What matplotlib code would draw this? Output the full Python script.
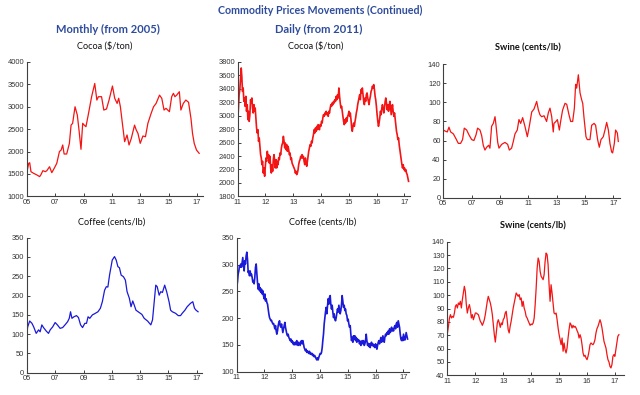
import numpy as np
import pandas as pd
import matplotlib
matplotlib.use('Agg')  # no GUI
import matplotlib.pyplot as plt

# ── Monthly series (from 2005), x in decimal years ──
cocoa_m_t = [2005.00, 2005.12, 2005.19, 2005.28, 2005.47, 2005.70, 2005.89, 2005.98,
             2006.12, 2006.29, 2006.40, 2006.59, 2006.75, 2006.92, 2007.10, 2007.29,
             2007.41, 2007.52, 2007.62, 2007.80, 2007.99, 2008.11, 2008.22, 2008.39,
             2008.55, 2008.67, 2008.81, 2008.93, 2009.04, 2009.16, 2009.32, 2009.56,
             2009.78, 2009.93, 2010.04, 2010.26, 2010.42, 2010.61, 2010.79, 2011.03,
             2011.19, 2011.36, 2011.47, 2011.59, 2011.73, 2011.89, 2012.06, 2012.20,
             2012.36, 2012.59, 2012.71, 2012.83, 2012.99, 2013.18, 2013.36, 2013.53,
             2013.76, 2013.93, 2014.11, 2014.35, 2014.51, 2014.67, 2014.81, 2015.05,
             2015.21, 2015.33, 2015.44, 2015.56, 2015.75, 2015.86, 2016.03, 2016.21,
             2016.40, 2016.57, 2016.68, 2016.80, 2016.96, 2017.15]
cocoa_m = [1550, 1737, 1750, 1550, 1513, 1476, 1440, 1480, 1573, 1550, 1573, 1660,
           1528, 1625, 1736, 2000, 2034, 2146, 1945, 1945, 2180, 2590, 2630, 3000,
           2815, 2480, 2050, 2630, 2590, 2555, 2815, 3225, 3520, 3150, 3225, 3225,
           2927, 2950, 3150, 3463, 3190, 3075, 3190, 3000, 2630, 2220, 2370, 2146,
           2294, 2590, 2480, 2406, 2183, 2347, 2330, 2630, 2852, 3000, 3075, 3260,
           3190, 2927, 2965, 2890, 3225, 3300, 3225, 3260, 3336, 2927, 3075, 3150,
           3100, 2740, 2406, 2183, 2034, 1960]

coffee_m_t = [2005.00, 2005.05, 2005.19, 2005.35, 2005.47, 2005.65, 2005.82, 2005.93,
              2006.05, 2006.17, 2006.36, 2006.52, 2006.64, 2006.82, 2006.99,
              2007.15, 2007.34, 2007.52, 2007.69, 2007.87, 2007.99,
              2008.08, 2008.18, 2008.32, 2008.50, 2008.64, 2008.79, 2008.93,
              2009.09, 2009.21, 2009.32, 2009.44, 2009.63, 2009.79,
              2010.02, 2010.19, 2010.33, 2010.49, 2010.61, 2010.72, 2010.84,
              2011.03, 2011.19, 2011.31, 2011.43, 2011.54, 2011.66, 2011.82, 2011.96,
              2012.08, 2012.24, 2012.36, 2012.48, 2012.59, 2012.71, 2012.94,
              2013.13, 2013.29, 2013.53, 2013.76, 2013.88,
              2014.00, 2014.11, 2014.21, 2014.35, 2014.46, 2014.58, 2014.74, 2014.88,
              2015.05, 2015.16, 2015.28, 2015.51, 2015.70, 2015.86, 2015.98,
              2016.17, 2016.33, 2016.57, 2016.73, 2016.85, 2016.96, 2017.10]
coffee_m = [106, 119, 134, 128, 119, 102, 111, 106, 124, 117, 108, 102, 111, 119, 130,
            124, 115, 117, 124, 132, 141, 158, 141, 145, 148, 143, 124, 117,
            128, 128, 145, 141, 150, 153, 158, 167, 184, 214, 223, 222, 253,
            292, 301, 292, 275, 272, 253, 249, 240, 210, 193, 171, 186, 175, 162, 156,
            151, 141, 134, 124, 137, 184, 227, 223, 201, 210, 208, 227, 210,
            184, 162, 158, 154, 148, 148, 154, 162, 171, 180, 184, 167, 162, 158]

swine_m_t = [2005.00, 2005.12, 2005.28, 2005.40, 2005.52, 2005.71, 2005.89,
             2006.06, 2006.22, 2006.36, 2006.48, 2006.65, 2006.81,
             2007.00, 2007.16, 2007.31, 2007.42, 2007.59, 2007.71, 2007.82, 2007.94,
             2008.06, 2008.20, 2008.29, 2008.41, 2008.53, 2008.65, 2008.72, 2008.84, 2008.93,
             2009.12, 2009.35, 2009.54, 2009.66, 2009.82, 2009.94,
             2010.06, 2010.22, 2010.34, 2010.46, 2010.60, 2010.76, 2010.93,
             2011.07, 2011.24, 2011.40, 2011.59, 2011.71, 2011.82, 2011.94,
             2012.11, 2012.29, 2012.41, 2012.53, 2012.65, 2012.76, 2012.81, 2012.95,
             2013.05, 2013.19, 2013.28, 2013.42, 2013.59, 2013.71, 2013.87, 2013.99,
             2014.13, 2014.25, 2014.34, 2014.41, 2014.53, 2014.65, 2014.76, 2014.84, 2014.93,
             2015.07, 2015.16, 2015.35, 2015.47, 2015.64, 2015.75, 2015.89,
             2016.01, 2016.13, 2016.29, 2016.41, 2016.53, 2016.65, 2016.76, 2016.88, 2016.95,
             2017.07, 2017.16, 2017.28, 2017.35]
swine_m = [71, 70, 69, 74, 69, 67, 62, 57, 57, 61, 73, 71, 66,
           61, 60, 66, 73, 71, 65, 55, 50, 53, 55, 52, 75, 78, 85, 76, 58, 52,
           56, 58, 56, 50, 52, 59, 67, 71, 82, 78, 84, 75, 64,
           75, 90, 93, 101, 92, 87, 85, 86, 80, 89, 94, 85, 69, 78, 80,
           82, 71, 80, 92, 99, 98, 87, 80, 80, 94, 119, 115, 129, 110, 103, 99, 84,
           64, 61, 61, 76, 78, 76, 61, 53, 61, 64, 71, 79, 71, 57, 48, 47,
           57, 71, 68, 59]

# ── Daily series (from 2011), sampled evenly Jan-2011 .. Feb-2017 ──
cocoa_d = [2966, 3115, 3314, 3388, 3562, 3711, 3587, 3363, 3413, 3214, 3264, 3140, 3289,
           3066, 3165, 2941, 3066, 2916, 3016, 3239, 3190, 3264, 3115, 3041, 3165, 3066,
           3115, 2966, 2817, 2743, 2792, 2619, 2668, 2544, 2420, 2371, 2271, 2321, 2147,
           2222, 2098, 2222, 2371, 2321, 2470, 2371, 2420, 2296, 2396, 2222, 2147, 2271,
           2172, 2346, 2420, 2321, 2222, 2346, 2222, 2321, 2271, 2371, 2346, 2445, 2420,
           2520, 2569, 2594, 2693, 2619, 2520, 2594, 2495, 2569, 2470, 2544, 2495, 2420,
           2445, 2346, 2371, 2296, 2271, 2247, 2222, 2197, 2147, 2172, 2123, 2147, 2197,
           2271, 2321, 2346, 2396, 2371, 2420, 2371, 2396, 2321, 2271, 2371, 2296, 2247,
           2321, 2396, 2470, 2520, 2569, 2544, 2619, 2594, 2668, 2718, 2792, 2743, 2817,
           2768, 2842, 2792, 2867, 2817, 2792, 2867, 2842, 2916, 2891, 2966, 3016, 2991,
           3041, 3016, 3066, 3016, 3041, 2991, 3066, 3041, 3115, 3165, 3140, 3190, 3165,
           3214, 3190, 3239, 3214, 3289, 3239, 3314, 3264, 3413, 3289, 3190, 3115, 3140,
           3066, 2991, 2916, 2867, 2941, 2891, 2966, 2916, 2991, 3016, 3066, 2991, 3041,
           2941, 2817, 2768, 2842, 2891, 2842, 2916, 2966, 3041, 3090, 3165, 3214, 3264,
           3314, 3239, 3388, 3339, 3413, 3314, 3214, 3165, 3264, 3214, 3314, 3339, 3264,
           3214, 3165, 3239, 3289, 3363, 3388, 3438, 3413, 3463, 3388, 3289, 3239, 3140,
           3016, 2916, 2842, 2891, 2966, 3066, 3016, 3115, 3165, 3115, 3041, 3115, 3214,
           3264, 3190, 3090, 3165, 3066, 3115, 3214, 3140, 3016, 3090, 3165, 3066, 2991,
           3041, 2941, 2842, 2768, 2718, 2644, 2668, 2569, 2495, 2420, 2346, 2271, 2222,
           2271, 2197, 2222, 2172, 2197, 2147, 2123, 2073, 2023]

coffee_d = [260, 267, 282, 288, 298, 295, 301, 295, 304, 313, 298, 288, 307, 301, 316,
            323, 310, 285, 288, 279, 288, 279, 282, 276, 267, 270, 264, 276, 295, 301,
            285, 267, 254, 264, 251, 257, 248, 254, 245, 251, 242, 236, 245, 232, 236,
            229, 226, 217, 208, 201, 198, 195, 196, 192, 189, 190, 186, 180, 186, 176,
            170, 176, 186, 192, 195, 186, 183, 189, 180, 173, 180, 186, 192, 183, 176,
            170, 167, 170, 164, 161, 158, 161, 155, 158, 152, 155, 150, 153, 155, 150,
            158, 152, 149, 155, 152, 149, 155, 158, 152, 158, 152, 145, 142, 139, 142,
            136, 139, 136, 134, 138, 133, 135, 132, 134, 130, 132, 128, 130, 127, 124,
            122, 126, 122, 127, 130, 134, 133, 136, 145, 158, 170, 189, 201, 211, 220,
            208, 224, 236, 226, 239, 242, 226, 217, 224, 211, 201, 208, 198, 195, 201,
            208, 217, 211, 224, 217, 208, 214, 226, 242, 232, 220, 224, 214, 217, 208,
            205, 195, 198, 189, 183, 186, 170, 158, 164, 155, 167, 161, 167, 158, 164,
            155, 161, 157, 159, 152, 157, 149, 155, 158, 152, 158, 149, 152, 158, 170,
            158, 149, 153, 147, 152, 145, 152, 155, 149, 152, 147, 150, 145, 152, 149,
            142, 149, 155, 158, 152, 158, 164, 155, 158, 167, 161, 155, 164, 170, 167,
            173, 170, 176, 170, 180, 173, 176, 183, 176, 180, 176, 183, 186, 180, 189,
            192, 183, 195, 189, 183, 170, 161, 158, 164, 158, 170, 164, 159, 164, 173,
            167, 161]

swine_d = [71.7, 76.7, 82.9, 85.4, 82.9, 84.1, 83.4, 86.6, 91.6, 92.9, 90.4, 94.1,
           92.9, 95.4, 90.4, 96.6, 101.6, 106.6, 102.8, 92.9, 86.6, 90.4, 92.9, 89.1,
           82.9, 85.4, 81.6, 84.1, 86.6, 86.6, 85.9, 85.4, 82.9, 80.4, 79.2, 77.4,
           79.2, 81.6, 85.4, 90.4, 95.4, 99.1, 96.6, 94.1, 90.4, 85.4, 77.9, 70.4,
           64.9, 71.7, 79.2, 81.6, 79.2, 75.9, 79.2, 77.9, 81.6, 82.9, 86.6, 87.9,
           81.6, 74.2, 71.7, 76.7, 80.4, 85.4, 90.4, 94.1, 97.9, 101.6, 100.4, 99.1,
           100.4, 96.6, 97.9, 91.6, 95.4, 90.4, 87.9, 84.1, 82.9, 80.9, 79.2, 77.4,
           78.4, 77.9, 79.2, 82.9, 92.9, 105.3, 120.3, 127.8, 125.3, 117.8, 114.1,
           112.8, 111.6, 115.3, 125.3, 131.5, 130.3, 122.8, 107.8, 95.4, 107.8, 101.6,
           94.1, 86.6, 85.9, 86.6, 81.6, 75.4, 70.4, 66.7, 62.9, 67.9, 58.0, 64.2,
           59.2, 56.7, 60.4, 67.9, 74.2, 79.2, 77.9, 75.4, 77.4, 75.9, 76.7, 75.4,
           73.4, 71.7, 67.9, 70.4, 67.9, 62.9, 56.7, 54.2, 55.0, 53.0, 51.7, 54.2,
           58.0, 62.9, 64.2, 63.4, 62.9, 64.2, 66.7, 71.7, 74.9, 76.7, 79.2, 81.6,
           79.2, 75.4, 70.4, 65.4, 62.9, 60.4, 55.5, 51.7, 50.0, 46.7, 45.5, 48.0,
           54.2, 55.5, 54.2, 59.2, 64.2, 69.2, 70.4]


def daily_years(n):
    d = pd.date_range("2011-01-03", "2017-02-24", periods=n)
    return np.asarray(d.year + (d.dayofyear - 1) / 365.25)


TITLE_BLUE = "#2E4C9C"
RED = "#F41414"
BLUE = "#1A1AD8"

plt.rcParams['font.family'] = ['Liberation Sans', 'DejaVu Sans']

fig = plt.figure(figsize=(6.4, 3.95), dpi=100)
W, H = 640.0, 395.0


def add_panel(px_left, px_right, px_top, px_bottom):
    return fig.add_axes([px_left / W, 1 - px_bottom / H,
                         (px_right - px_left) / W, (px_bottom - px_top) / H])


def style(ax, xlim, xticks, xlabels, ylim, yticks):
    ax.set_xlim(*xlim)
    ax.set_ylim(*ylim)
    ax.set_xticks(xticks)
    ax.set_xticklabels(xlabels)
    ax.set_yticks(yticks)
    for s in ("top", "right"):
        ax.spines[s].set_visible(False)
    for s in ("left", "bottom"):
        ax.spines[s].set_linewidth(0.8)
        ax.spines[s].set_color("#404040")
    ax.tick_params(direction="in", length=2.5, width=0.7, color="#404040",
                   labelsize=5.4, pad=2, labelcolor="#333333")


m_ticks = [2005, 2007, 2009, 2011, 2013, 2015, 2017]
m_labels = ["05", "07", "09", "11", "13", "15", "17"]
d_ticks = [2011, 2012, 2013, 2014, 2015, 2016, 2017]
d_labels = ["11", "12", "13", "14", "15", "16", "17"]

# Row 1
ax = add_panel(27, 203, 62, 196.3)
ax.plot(cocoa_m_t, cocoa_m, color=RED, lw=0.9)
style(ax, (2005, 2017.42), m_ticks, m_labels, (1000, 4000), range(1000, 4001, 500))

ax = add_panel(237.7, 410, 62, 196.3)
ax.plot(daily_years(len(cocoa_d)), cocoa_d, color=RED, lw=1.2)
style(ax, (2011, 2017.2), d_ticks, d_labels, (1800, 3800), range(1800, 3801, 200))

ax = add_panel(443.3, 620, 64.3, 197.7)
ax.plot(swine_m_t, swine_m, color=RED, lw=0.9)
style(ax, (2005, 2017.47), m_ticks, m_labels, (0, 140), range(0, 141, 20))

# Row 2
ax = add_panel(27, 202, 237.7, 372.7)
ax.plot(coffee_m_t, coffee_m, color=BLUE, lw=0.9)
style(ax, (2005, 2017.38), m_ticks, m_labels, (0, 350), range(0, 351, 50))

ax = add_panel(236.7, 409, 237.7, 371.7)
ax.plot(daily_years(len(coffee_d)), coffee_d, color=BLUE, lw=1.2)
style(ax, (2011, 2017.2), d_ticks, d_labels, (100, 350), range(100, 351, 50))

ax = add_panel(447.3, 624, 241.7, 375.3)
ax.plot(daily_years(len(swine_d)), swine_d, color=RED, lw=0.9)
style(ax, (2011, 2017.33), d_ticks, d_labels, (40, 140), range(40, 141, 10))

# ── Titles ──
def ftext(x, y, s, **kw):
    fig.text(x / W, 1 - y / H, s, ha="center", va="center", **kw)

ftext(320, 10, "Commodity Prices Movements (Continued)", fontsize=7.7,
      fontweight="bold", color=TITLE_BLUE, family=['Lato', 'DejaVu Sans'])
ftext(107.5, 29, "Monthly (from 2005)", fontsize=8, fontweight="bold",
      color=TITLE_BLUE, family=['Lato', 'DejaVu Sans'])
ftext(319, 29, "Daily (from 2011)", fontsize=8, fontweight="bold",
      color=TITLE_BLUE, family=['Lato', 'DejaVu Sans'])

sub_kw = dict(fontsize=6.6, color="#111111", family=['Lato', 'DejaVu Sans'])
ftext(105, 46, "Cocoa ($/ton)", **sub_kw)
ftext(316, 46, "Cocoa ($/ton)", **sub_kw)
ftext(528, 48, "Swine (cents/lb)", fontweight="bold", **sub_kw)
ftext(111.5, 222, "Coffee (cents/lb)", **sub_kw)
ftext(322.5, 222, "Coffee (cents/lb)", **sub_kw)
ftext(532.5, 226, "Swine (cents/lb)", fontweight="bold", **sub_kw)

fig.savefig("out.png", dpi=100)
